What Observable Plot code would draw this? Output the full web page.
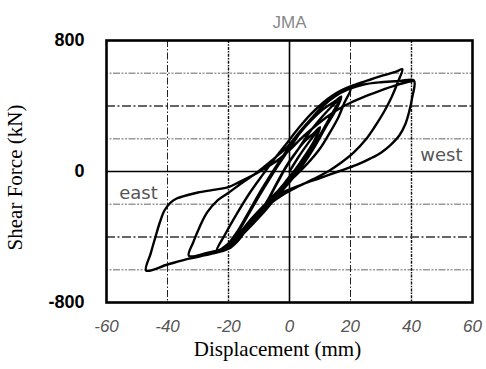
<!DOCTYPE html>
<html>
<head>
<meta charset="utf-8">
<script src="https://cdn.jsdelivr.net/npm/d3@7"></script>
<script src="https://cdn.jsdelivr.net/npm/@observablehq/plot@0.6"></script>
<style>
  html, body { margin: 0; padding: 0; background: #fff; }
  #chart svg { display: block; }
</style>
</head>
<body>
<div id="chart"></div>
<script>
// ---- data (displacement mm, shear force kN) ----
const title = "JMA";
const xLabel = "Displacement (mm)";
const yLabel = "Shear Force (kN)";
const xTicks = [-60, -40, -20, 0, 20, 40, 60];
const yTicks = [-800, 0, 800];
const gridXThin = [-40, 20];
const gridXDark = [-20, 40];
const gridYLight = [-600, -200, 200, 600];
const gridYDark = [-400, 400];
const sideLabels = [
  {text: "east", x: -49.5, y: -134},
  {text: "west", x: 49.8, y: 98}
];

const cycle1 = [[0,0],[3,90],[6,170],[8,220],[10,265],[8,185],[5,95],[2,15],[-1,-55],[-4,-135],[-7,-205],[-10,-265],[-7,-170],[-4,-65],[-1,35],[2,115],[5,185],[8,235],[10,270],[8,180],[5,90],[2,10],[-1,-60],[-4,-140],[-7,-215],[-10,-275],[-7,-175],[-4,-70],[-1,30]];
const cycle2 = [[-1,30],[3,140],[7,250],[11,340],[14,400],[17,450],[15,370],[12,275],[9,175],[6,85],[3,5],[0,-65],[-4,-150],[-8,-240],[-12,-320],[-16,-395],[-21,-470],[-17,-365],[-13,-235],[-9,-105],[-5,15],[-1,125],[3,225],[7,310],[11,380],[15,430],[17,458],[14,355],[11,255],[8,160],[5,75],[2,-5],[-2,-80],[-6,-170],[-10,-260],[-14,-345],[-18,-420],[-20,-462],[-16,-345],[-12,-215],[-8,-90],[-4,30]];
const cycle2b = [[-4,30],[0,140],[4,250],[8,340],[12,420],[16,475],[20,505],[18,420],[16,330],[13,230],[10,140],[6,50],[2,-25],[-3,-105],[-8,-200],[-13,-300],[-17,-390],[-21,-455],[-24,-488],[-21,-380],[-17,-250],[-13,-130],[-9,-25],[-5,75]];
const cycle3 = [[-5,75],[-1,170],[3,265],[7,350],[11,420],[14,462],[17,495],[21,527],[26,558],[31,588],[35,610],[37,625],[35.5,545],[33.5,455],[31,365],[28,275],[25,195],[21,115],[17,55],[13,5],[8,-45],[3,-90],[-2,-140],[-7,-205],[-12,-285],[-16,-370],[-19,-435],[-22,-472],[-27,-497],[-33,-515],[-31.5,-430],[-29.5,-340],[-27,-250],[-23.5,-175],[-20,-130],[-16,-75],[-11,-10],[-6,65],[-1,145],[3,235],[7,320],[11,400],[15,460],[19,500],[24,530],[30,545],[36,552],[40.8,556]];
const cycle4 = [[40.8,556],[40.2,450],[39.3,370],[38,290],[36,220],[33,160],[30,115],[26.6,80],[22,40],[16,0],[10,-40],[4,-80],[-2,-125],[-7,-185],[-11,-265],[-14,-350],[-17,-425],[-20,-472],[-26,-505],[-33,-532],[-40,-568],[-47,-605],[-45.5,-500],[-44,-403],[-42.5,-310],[-41,-238],[-39,-190],[-37,-165],[-33,-142],[-30,-128],[-25,-112],[-20,-95],[-16,-60],[-12,-24],[-8,20],[-4,67],[0,130],[4,205],[8,270],[12,330],[16,380],[20,420],[25,460],[30,495],[35,527],[39,548],[40.8,556]];

const path = [...cycle1, ...cycle2.slice(1), ...cycle2b.slice(1), ...cycle3.slice(1), ...cycle4.slice(1)]
  .map(([d, f]) => ({d, f}));

const chart = Plot.plot({
  width: 486,
  height: 369,
  marginLeft: 106,
  marginRight: 14,
  marginTop: 40,
  marginBottom: 67,
  style: {background: "#fff"},
  x: {domain: [-60, 60]},
  y: {domain: [-800, 800]},
  marks: [
    Plot.ruleY(gridYLight, {stroke: "#999", strokeWidth: 1.6, strokeDasharray: "2,1.5,2,1.5,7,1.5"}),
    Plot.ruleY(gridYDark, {stroke: "#333", strokeWidth: 1.3, strokeDasharray: "9,2.5,2,2.5"}),
    Plot.ruleX(gridXThin, {stroke: "#222", strokeWidth: 1, strokeDasharray: "7,2,1.5,2"}),
    Plot.ruleX(gridXDark, {stroke: "#111", strokeWidth: 1.4, strokeDasharray: "3,1.2,1.5,1.2"}),
    Plot.ruleX([0], {stroke: "#000", strokeWidth: 1.6}),
    Plot.ruleY([0], {stroke: "#000", strokeWidth: 1.6}),
    Plot.line(path, {x: "d", y: "f", curve: "catmull-rom", stroke: "#000", strokeWidth: 2.4, strokeLinejoin: "round"}),
    Plot.text(sideLabels, {x: "x", y: "y", text: "text", fill: "#555", fontSize: 18, fontFamily: "DejaVu Sans", stroke: "#fff", strokeWidth: 3, paintOrder: "stroke"}),
    Plot.frame({stroke: "#000", strokeWidth: 2.6}),
    Plot.axisY(yTicks, {tickSize: 0, tickPadding: 22, fontSize: 18, fontWeight: "bold", fontFamily: "Liberation Sans", fill: "#000", label: null, tickFormat: d => String(d)}),
    Plot.axisX(xTicks, {tickSize: 0, tickPadding: 17, fontSize: 17, fontStyle: "italic", fontFamily: "Liberation Sans", fill: "#555", label: null, tickFormat: d => String(d)}),
    Plot.text([title], {frameAnchor: "top", dy: -25, fontSize: 17, fill: "#888", fontFamily: "Liberation Sans"}),
    Plot.text([xLabel], {frameAnchor: "bottom", dx: -12, dy: 53, fontSize: 21, fill: "#000", fontFamily: "Liberation Serif"}),
    Plot.text([yLabel], {frameAnchor: "left", textAnchor: "middle", dx: -91, dy: 6, rotate: -90, fontSize: 21, fill: "#000", fontFamily: "Liberation Serif"})
  ]
});
document.getElementById("chart").appendChild(chart);
</script>
</body>
</html>
